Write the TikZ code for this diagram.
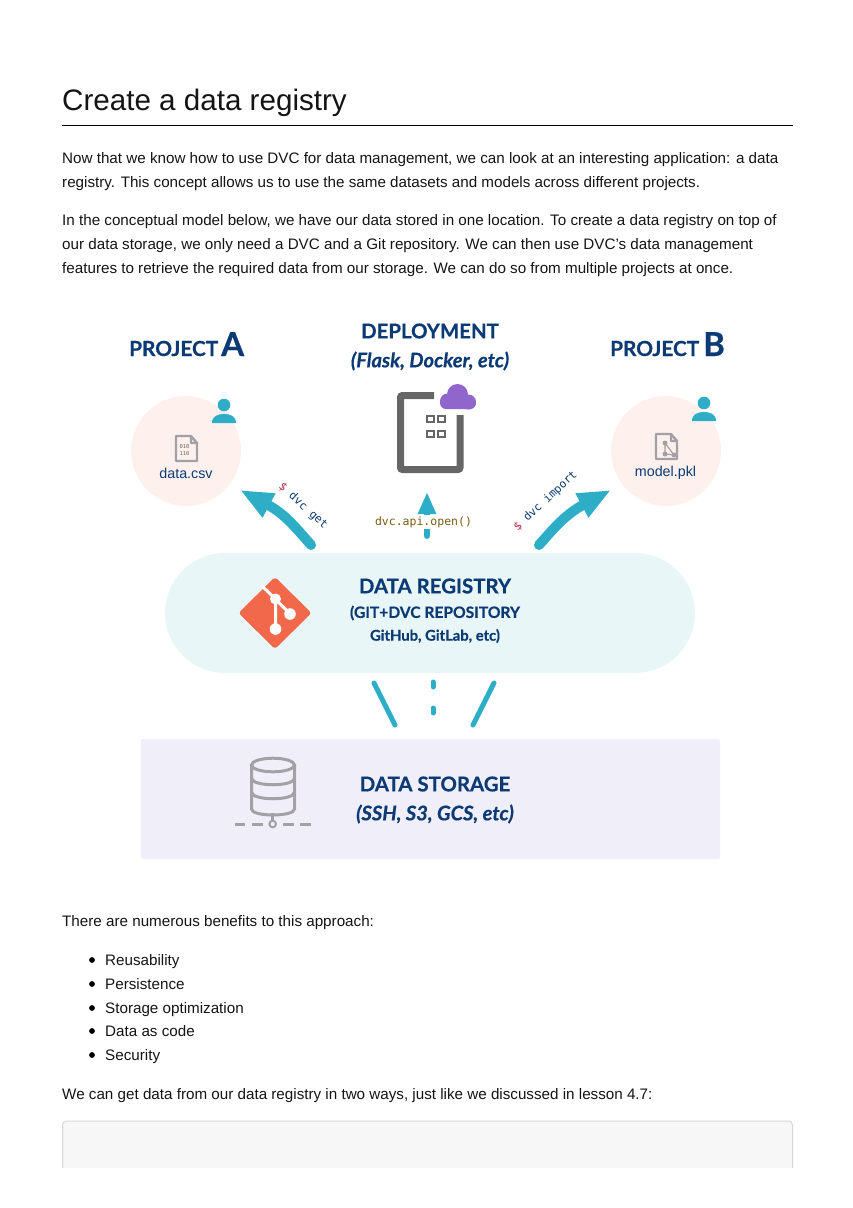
\documentclass[tikz,border=0pt]{standalone}
\usepackage{fontspec}
\usepackage{tikz}
\usetikzlibrary{arrows.meta}
\setmainfont{Liberation Sans}
\newfontfamily\brandfont{Lato}[BoldFeatures={FakeBold=0.5},BoldItalicFeatures={FakeBold=0.5}]
\newfontfamily\codefont{DejaVu Sans Mono}
\definecolor{navy}{HTML}{0B3A75}
\definecolor{teal}{HTML}{2EAEC6}
\definecolor{iconGray}{HTML}{A3A1A6}
\definecolor{boxGray}{HTML}{666666}
\definecolor{dollarRed}{HTML}{B8264A}
\definecolor{cloudPurple}{HTML}{9166CC}
\definecolor{discPink}{HTML}{FEF1ED}
\definecolor{pillBlue}{HTML}{E8F6F8}
\definecolor{storeLilac}{HTML}{F0EEF8}
\definecolor{gitOrange}{HTML}{F1694A}
\definecolor{apiBrown}{HTML}{7A5C10}
\tikzset{
	bodytext/.style={anchor=base west,inner sep=0pt,font=\fontsize{15.2}{17}\selectfont,text=black!92},
	brandtitle/.style={inner sep=0pt,text=navy,font=\brandfont\bfseries\fontsize{20.4}{22}\selectfont},
	brandsub/.style={inner sep=0pt,text=navy,font=\brandfont\bfseries\fontsize{15.6}{18}\selectfont},
	branditalic/.style={inner sep=0pt,text=navy,font=\brandfont\bfseries\itshape\fontsize{20.1}{22}\selectfont},
	projlabel/.style={inner sep=0pt,anchor=base west,text=navy,font=\brandfont\bfseries\fontsize{20.8}{23}\selectfont},
	projletter/.style={inner sep=0pt,anchor=base west,text=navy,font=\brandfont\bfseries\fontsize{33}{34}\selectfont},
	projectdisc/.style={circle,fill=discPink,minimum size=110pt,inner sep=0pt},
	filelabel/.style={inner sep=0pt,anchor=base,text=navy,font=\fontsize{14.3}{16}\selectfont},
	cmdlabel/.style={inner sep=0pt,text=navy,font=\codefont\fontsize{11.3}{13}\selectfont},
	bigarrow/.style={teal,line width=10pt,line cap=round,-{Triangle[length=33pt,width=25pt]}},
	tealbar/.style={teal,line width=5pt,line cap=round},
	iconline/.style={iconGray,line width=2.4pt},
}
\begin{document}
\begin{tikzpicture}[x=1pt,y=-1pt]
	\useasboundingbox (0,0) rectangle (853,1208);
	% page text, top
	\node[anchor=base west,inner sep=0pt,font=\fontsize{29.6}{32}\selectfont,text=black!92] (pagetitle) at (62,110) {Create a data registry};
	\draw[black,line width=1pt] (62,125) -- (793,125);
	\node[bodytext] (introa) at (62,163) {Now that we know how to use DVC for data management, we can look at an interesting application: a data};
	\node[bodytext] (introb) at (62,187) {registry. This concept allows us to use the same datasets and models across different projects.};
	\node[bodytext] (introc) at (62,225) {In the conceptual model below, we have our data stored in one location. To create a data registry on top of};
	\node[bodytext] (introd) at (62,249) {our data storage, we only need a DVC and a Git repository. We can then use DVC's data management};
	\node[bodytext] (introe) at (62,273) {features to retrieve the required data from our storage. We can do so from multiple projects at once.};

	% large shapes
	\node[projectdisc] (projecta) at (186,451) {};
	\node[projectdisc] (projectb) at (666,451) {};
	\node[rectangle,rounded corners=60pt,fill=pillBlue,minimum width=530pt,minimum height=120pt,inner sep=0pt] (registry) at (430,613) {};
	\node[rectangle,rounded corners=2pt,fill=storeLilac,minimum width=579pt,minimum height=120pt,inner sep=0pt] (storage) at (430.5,799) {};

	% headings
	\node[projlabel] (projlabela) at (129,356) {PROJECT};
	\node[projletter] (lettera) at (221,356) {A};
	\node[projlabel] (projlabelb) at (610,356) {PROJECT};
	\node[projletter] (letterb) at (703,356) {B};
	\node[brandtitle] (deploy) at (430,331) {DEPLOYMENT};
	\node[branditalic] (deploysub) at (430,361) {(Flask, Docker, etc)};
	\node[brandtitle] (regtitle) at (435,586) {DATA REGISTRY};
	\node[brandsub] (regsuba) at (435,613) {(GIT+DVC REPOSITORY};
	\node[brandsub,font=\brandfont\bfseries\fontsize{14.8}{18}\selectfont] (regsubb) at (435,636) {GitHub, GitLab, etc)};
	\node[brandtitle] (stotitle) at (435,784) {DATA STORAGE};
	\node[branditalic] (stosub) at (435,814) {(SSH, S3, GCS, etc)};

	% persons
	\foreach \px/\py in {224/405,704/403} {
		\fill[teal] (\px,\py) circle (6.3);
		\fill[teal] (\px-12,\py+18) .. controls (\px-12,\py+11) and (\px-6,\py+9) .. (\px,\py+9) .. controls (\px+6,\py+9) and (\px+12,\py+11) .. (\px+12,\py+18) -- cycle;
	}

	% file icons
	\foreach \fx/\fy in {175/436,655/434} {
		\draw[iconline,line join=round] (\fx+16,\fy) -- (\fx+1,\fy) -- (\fx+1,\fy+25) -- (\fx+22,\fy+25) -- (\fx+22,\fy+7) -- (\fx+16,\fy) -- (\fx+16,\fy+7) -- (\fx+22,\fy+7);
	}
	\node[inner sep=0pt,align=center,text=boxGray,font=\codefont\fontsize{5.5}{7}\selectfont] (bits) at (184.5,450) {010\\110};
	\fill[iconGray] (665,443) circle (2.5) (665,454) circle (2.5) (674,455) circle (2.5);
	\draw[iconGray,line width=1.2pt] (665,443) -- (665,454) (665,443) -- (674,455) (665,454) -- (674,455);
	\node[filelabel] (csvlabel) at (186,478) {data.csv};
	\node[filelabel] (pkllabel) at (665.5,476) {model.pkl};

	% deployment icon
	\draw[boxGray,line width=7pt,rounded corners=2pt] (434,395.5) -- (400.5,395.5) -- (400.5,469.5) -- (460,469.5) -- (460,415);
	\foreach \qx/\qy in {427/416,438/416,427/431,438/431} {
		\draw[boxGray,line width=2pt] (\qx,\qy) rectangle +(7,6);
	}
	\fill[cloudPurple,rounded corners=6pt] (440,409) -- (440,397) -- (476,397) -- (476,409) -- cycle;
	\fill[cloudPurple] (447.5,401) circle (7.5) (457.5,394.5) circle (10.5) (468.5,402) circle (7.5);

	% arrows up
	\coordinate (getstart) at (311,545);
	\coordinate (getend) at (240,490);
	\coordinate (importstart) at (539,545);
	\coordinate (importend) at (611,490);
	\coordinate (apistart) at (427,536);
	\coordinate (apiend) at (427,492);
	\draw[bigarrow] (getstart) .. controls (296,528) and (285,514) .. (getend);
	\draw[bigarrow] (importstart) .. controls (554,528) and (566,514) .. (importend);
	\draw[teal,line width=6pt,line cap=round,-{Triangle[length=22pt,width=17pt]}] (apistart) -- (apiend);
	\node[fill=white,inner sep=1pt,text=apiBrown,font=\codefont\fontsize{11.5}{13}\selectfont] (apilabel) at (423.5,522) {dvc.api.open()};
	\node[cmdlabel,rotate=-42] (getlabel) at (303,506) {\textcolor{dollarRed}{\$} dvc get};
	\node[cmdlabel,rotate=43] (importlabel) at (545.5,501) {\textcolor{dollarRed}{\$} dvc import};

	% git logo
	\fill[gitOrange,rounded corners=3pt] (275,577) -- (311.5,613) -- (275,649) -- (238.5,613) -- cycle;
	\coordinate (gitbranch) at (275.5,599);
	\coordinate (gitlow) at (275.5,629);
	\coordinate (gitside) at (290,614);
	\draw[white,line width=3pt] (263,587) -- (gitbranch) -- (gitside) (gitbranch) -- (gitlow);
	\fill[white] (gitbranch) circle (5.5) (gitlow) circle (5.8) (gitside) circle (5.8);

	% bars between registry and storage
	\coordinate (barla) at (374,683);
	\coordinate (barlb) at (395,725);
	\coordinate (barra) at (494,683);
	\coordinate (barrb) at (473,725);
	\coordinate (barma) at (433,682);
	\coordinate (barmb) at (433,687);
	\coordinate (barmc) at (433,708);
	\coordinate (barmd) at (433,713);
	\draw[tealbar] (barla) -- (barlb);
	\draw[tealbar] (barra) -- (barrb);
	\draw[tealbar] (barma) -- (barmb);
	\draw[tealbar] (barmc) -- (barmd);

	% database icon
	\draw[iconline,line width=3pt,rounded corners=3pt] (251.5,765) -- (251.5,806) .. controls (251.5,817) and (294.5,817) .. (294.5,806) -- (294.5,765);
	\draw[iconline,line width=3pt] (273,765) ellipse (21.5 and 6.8);
	\foreach \dy in {778,792} {
		\draw[iconline,line width=3pt] (251.5,\dy) .. controls (251.5,\dy+9) and (294.5,\dy+9) .. (294.5,\dy);
	}
	\draw[iconline,line width=2.5pt] (272.7,813) -- (272.7,821);
	\foreach \da/\db in {234.5/245,252/263,283/293.5,300/311} {
		\draw[iconline,line width=3pt] (\da,824) -- (\db,824);
	}
	\draw[iconline,line width=2pt] (272.7,824) circle (3.3);

	% page text, bottom
	\node[bodytext] (benefits) at (62,926) {There are numerous benefits to this approach:};
	\foreach \ly/\entry in {965/Reusability,989/Persistence,1013/Storage optimization,1036/Data as code,1060/Security} {
		\fill[black] (92,\ly-5) circle (2.9);
		\node[bodytext] at (105,\ly) {\entry};
	}
	\node[bodytext] (lastline) at (62,1099) {We can get data from our data registry in two ways, just like we discussed in lesson 4.7:};

	% clipped code box
	\begin{scope}
		\clip (50,1110) rectangle (805,1167);
		\draw[draw=black!16,fill=black!3,line width=1pt,rounded corners=4pt] (62.5,1121) rectangle (792.5,1190);
	\end{scope}
\end{tikzpicture}
\end{document}
